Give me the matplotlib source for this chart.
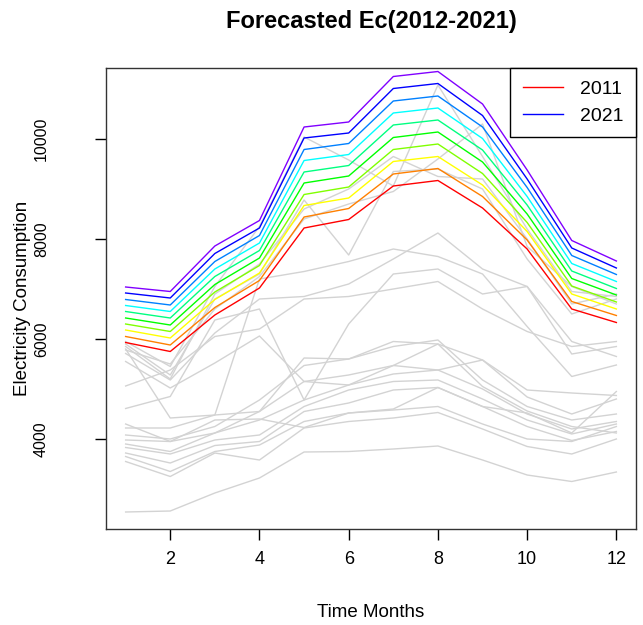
import numpy as np
import matplotlib
matplotlib.use("Agg")
from matplotlib import pyplot as plt
from matplotlib.lines import Line2D

plt.rcParams['font.family'] = ['Liberation Sans', 'DejaVu Sans']

months = list(range(1, 13))

# forecast lines, bottom (red) to top (violet)
forecast = [
    [5930, 5750, 6480, 7020, 8220, 8390, 9060, 9170, 8620, 7800, 6600, 6330],
    [6050, 5880, 6630, 7170, 8440, 8610, 9300, 9410, 8850, 7980, 6750, 6470],
    [6180, 6020, 6790, 7320, 8670, 8820, 9550, 9650, 9080, 8150, 6900, 6600],
    [6300, 6150, 6940, 7470, 8890, 9040, 9790, 9900, 9310, 8330, 7060, 6740],
    [6420, 6280, 7090, 7620, 9120, 9260, 10030, 10140, 9540, 8500, 7210, 6880],
    [6550, 6420, 7250, 7770, 9340, 9470, 10280, 10380, 9780, 8680, 7360, 7010],
    [6670, 6550, 7400, 7920, 9570, 9690, 10520, 10620, 10010, 8850, 7510, 7150],
    [6790, 6680, 7550, 8070, 9790, 9910, 10760, 10860, 10240, 9030, 7670, 7290],
    [6920, 6820, 7710, 8220, 10020, 10120, 11010, 11110, 10470, 9200, 7820, 7420],
    [7040, 6950, 7860, 8370, 10240, 10340, 11250, 11350, 10700, 9380, 7970, 7560],
]
forecast_colors = ['#FF0000', '#FF8000', '#FFFF00', '#80FF00', '#00FF00',
                   '#00FF80', '#00FFFF', '#0080FF', '#0000FF', '#8000FF']

# past years (grey)
hist_low = [
    [2540, 2560, 2920, 3220, 3740, 3750, 3800, 3860, 3580, 3280, 3150, 3340],
    [3550, 3250, 3720, 3580, 4220, 4350, 4420, 4530, 4200, 3850, 3700, 4000],
    [3650, 3350, 3750, 3880, 4350, 4520, 4580, 4650, 4300, 4000, 3950, 4250],
    [3720, 3520, 3870, 3950, 4550, 4720, 4980, 5030, 4650, 4250, 3970, 4150],
    [3830, 3700, 3980, 4080, 4650, 4980, 5150, 5180, 4800, 4380, 4100, 4300],
    [3900, 3750, 4120, 4380, 4780, 5080, 5300, 5380, 5000, 4500, 4200, 4350],
    [3980, 3950, 4120, 4550, 5150, 5280, 5470, 5900, 5050, 4560, 4250, 4120],
    [4080, 4000, 4250, 4780, 5470, 5600, 5850, 5980, 5180, 4650, 4380, 4500],
    [4220, 4220, 4480, 4550, 5620, 5600, 5950, 5900, 5580, 4840, 4500, 4800],
    [4300, 3950, 4380, 4400, 4230, 4520, 4600, 5030, 4650, 4520, 4120, 4950],
]
hist_mid = [
    [5800, 4420, 4480, 7200, 7350, 7550, 7800, 7650, 7300, 6250, 5250, 5480],
    [5060, 5380, 6050, 6200, 6800, 6850, 7000, 7150, 6600, 6150, 5850, 5950],
    [4610, 4850, 6380, 6600, 4780, 6300, 7300, 7400, 6900, 7050, 5700, 5850],
    [5550, 5020, 5520, 6060, 5150, 5080, 5470, 5380, 5580, 4980, 4920, 4870],
    [5710, 5180, 6120, 6800, 6850, 7100, 7600, 8120, 7400, 7050, 5950, 5650],
]
hist_high = [
    [5900, 5280, 6800, 7300, 8780, 7680, 9350, 9400, 9000, 7600, 6500, 6800],
    [5850, 5200, 6900, 7500, 8600, 9000, 9650, 9250, 9200, 8000, 6700, 6900],
    [5950, 5450, 7050, 8250, 10040, 9580, 9060, 11080, 9650, 8200, 6950, 6850],
    [5780, 5500, 6600, 7250, 8400, 8700, 8950, 9600, 10300, 7850, 7050, 6700],
]

fig = plt.figure(figsize=(6.43, 6.25), dpi=100)
ax = fig.add_axes([106/643, 1 - 529/625, 530/643, 461/625])

for row in hist_low + hist_mid + hist_high:
    ax.plot(months, row, color='#D3D3D3', lw=1.0, zorder=1)
for row, c in zip(forecast, forecast_colors):
    ax.plot(months, row, color=c, lw=1.0, zorder=2)

ax.set_xlim(0.56, 12.44)
ax.set_ylim(2200, 11420)
ax.set_xticks([2, 4, 6, 8, 10, 12])
ax.set_yticks([4000, 6000, 8000, 10000])
ax.tick_params(axis='both', direction='out', length=8, width=1)
ax.tick_params(axis='x', pad=8, labelsize=13)
ax.tick_params(axis='y', pad=33, labelsize=11.5)
for lab in ax.get_yticklabels():
    lab.set_rotation(90)
    lab.set_va('center')
for sp in ax.spines.values():
    sp.set_linewidth(1.0)
    sp.set_color('#333333')

ax.set_title('Forecasted Ec(2012-2021)', fontsize=17, fontweight='bold',
             y=1.1, va='center', pad=0)
ax.set_xlabel('Time Months', fontsize=13.5)
ax.set_ylabel('Electricity Consumption', fontsize=13.5)
ax.xaxis.set_label_coords(0.5, -0.182)
ax.yaxis.set_label_coords(-0.158, 0.5)
ax.xaxis.label.set_va('center')
ax.yaxis.label.set_va('center')

handles = [Line2D([0], [0], color='#FF0000', lw=1),
           Line2D([0], [0], color='#0000FF', lw=1)]
leg = ax.legend(handles, ['2011', '2021'], loc='upper right', fontsize=14,
                frameon=True, fancybox=False, edgecolor='black', framealpha=1,
                borderaxespad=0, handlelength=2.1, borderpad=0.65, labelspacing=0.45,
                handletextpad=0.85)
leg.get_frame().set_linewidth(1.0)

plt.savefig('out.png')
